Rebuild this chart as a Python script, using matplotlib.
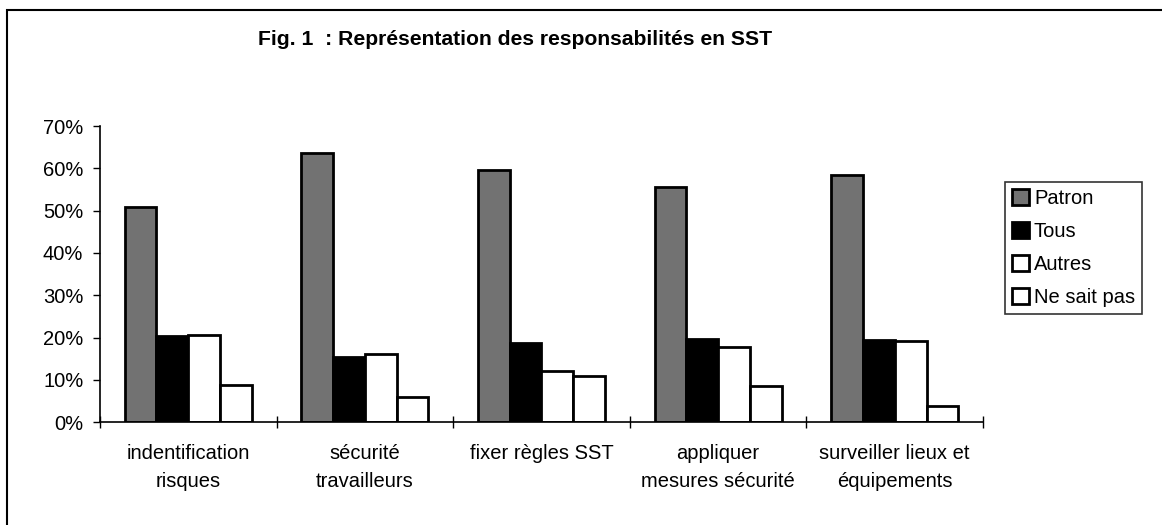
import numpy as np
import matplotlib.pyplot as plt
from matplotlib.patches import Rectangle
from matplotlib.ticker import PercentFormatter

plt.rcParams['font.family'] = ['Liberation Sans', 'DejaVu Sans']

categories = ['indentification\nrisques', 'sécurité\ntravailleurs', 'fixer règles SST',
              'appliquer\nmesures sécurité', 'surveiller lieux et\néquipements']
series = ['Patron', 'Tous', 'Autres', 'Ne sait pas']
patron = [50.8, 63.5, 59.5, 55.5, 58.5]
tous = [20.3, 15.4, 18.7, 19.7, 19.5]
autres = [20.6, 16.2, 12.0, 17.8, 19.1]
ne_sait_pas = [8.7, 6.0, 11.0, 8.5, 3.7]

colors = ['#727272', '#000000', '#ffffff', '#ffffff']
values = [patron, tous, autres, ne_sait_pas]

fig = plt.figure(figsize=(11.62, 5.25), dpi=100)
ax = fig.add_axes([0.086, 0.196, 0.760, 0.564])

x = np.arange(len(categories))
w = 0.18
for i, (name, vals) in enumerate(zip(series, values)):
    ax.bar(x + (i - 1.5) * w, vals, w, label=name, color=colors[i],
           edgecolor='black', linewidth=2)

ax.set_xlim(-0.5, len(categories) - 0.5)
ax.set_ylim(0, 70)
ax.set_yticks(np.arange(0, 71, 10))
ax.yaxis.set_major_formatter(PercentFormatter(decimals=0))
ax.set_xticks(x)
ax.set_xticklabels(categories, fontsize=14.5, linespacing=1.55)
ax.set_xticks(np.arange(-0.5, len(categories)), minor=True)
ax.tick_params(axis='x', which='major', length=0, pad=16)
ax.tick_params(axis='x', which='minor', direction='inout', length=8, width=1)
ax.tick_params(axis='y', direction='out', length=5, width=1, labelsize=14.5, pad=7)
for s in ['top', 'right']:
    ax.spines[s].set_visible(False)
for s in ['left', 'bottom']:
    ax.spines[s].set_linewidth(1.2)

fig.text(0.443, 0.925, 'Fig. 1  : Représentation des responsabilités en SST',
         ha='center', va='center', fontsize=15.2, fontweight='bold')

leg = fig.legend(loc='upper left', bbox_to_anchor=(0.865, 0.653), fontsize=14.5,
                 frameon=True, fancybox=False, edgecolor='black',
                 handlelength=0.85, handleheight=0.85, handletextpad=0.25,
                 labelspacing=0.7, borderpad=0.33, borderaxespad=0)
leg.get_frame().set_linewidth(1.2)

fig.patches.append(Rectangle((7 / 1162, -0.1), 1.2, 1 - 10 / 525 + 0.1,
                             transform=fig.transFigure, fill=False,
                             edgecolor='black', linewidth=1.5))

fig.savefig('out.png', dpi=100)
